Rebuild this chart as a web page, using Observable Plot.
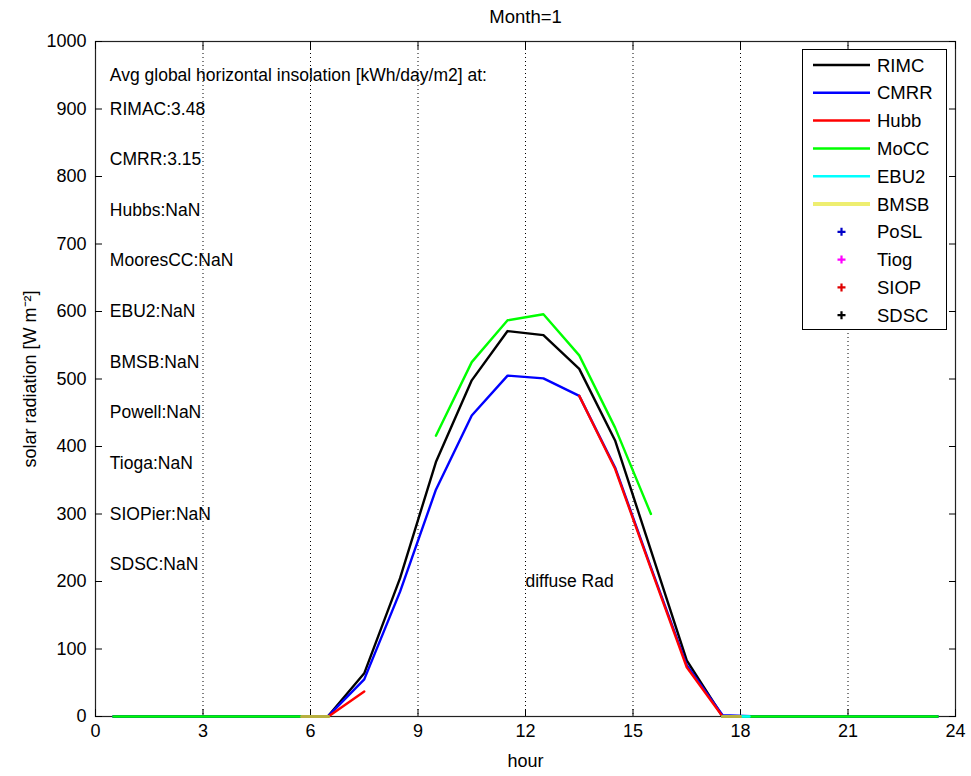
<!DOCTYPE html>
<html>
<head>
<meta charset="utf-8">
<script src="https://cdn.jsdelivr.net/npm/d3@7"></script>
<script src="https://cdn.jsdelivr.net/npm/@observablehq/plot@0.6"></script>
<style>
  body { margin: 0; background: #fff; font-family: "Liberation Sans", Arial, sans-serif; }
  #chart { position: relative; width: 971px; height: 776px; }
  #legend { position: absolute; left: 802px; top: 49px; }
</style>
</head>
<body>
<div id="chart"></div>
<script>
// Hourly means (hour of day, local time) for January
const hours = [0.5, 1.5, 2.5, 3.5, 4.5, 5.5, 6.5, 7.5, 8.5, 9.5, 10.5, 11.5,
               12.5, 13.5, 14.5, 15.5, 16.5, 17.5, 18.5, 19.5, 20.5, 21.5, 22.5, 23.5];

const RIMC = [0, 0, 0, 0, 0, 0, 1, 64, 205, 377, 498, 571,
              565, 515, 409, 246, 83, 0, 0, 0, 0, 0, 0, 0];
const CMRR = [0, 0, 0, 0, 0, 0, 1, 55, 185, 336, 446, 505,
              501, 475, 369, 221, 76, 2, 0, 0, 0, 0, 0, 0];
const Hubb = [null, null, null, null, null, null, 0, 37, null, null, null, null,
              null, 475, 367, 219, 73, 0, null, null, null, null, null, null];
const MoCC = [0, 0, 0, 0, 0, 0, 0, null, null, 416, 525, 587,
              596, 535, 428, 300, null, 0, 0, 0, 0, 0, 0, 0];

// Short station records near sunrise / sunset
const hoursEBU2 = [17.5, 18.25];
const EBU2 = [0, 0];
const hoursBMSB = [5.75, 6.5, null, 17.5, 18.0];
const BMSB = [0, 0, null, 0, 0];

// Axis ticks and grid
const xTicks = [0, 3, 6, 9, 12, 15, 18, 21, 24];
const yTicks = [0, 100, 200, 300, 400, 500, 600, 700, 800, 900, 1000];
const gridHours = [3, 6, 9, 12, 15, 18, 21];

// Daily insolation annotations
const noteLabels = [
  "Avg global horizontal insolation [kWh/day/m2] at:",
  "RIMAC:3.48", "CMRR:3.15", "Hubbs:NaN", "MooresCC:NaN", "EBU2:NaN",
  "BMSB:NaN", "Powell:NaN", "Tioga:NaN", "SIOPier:NaN", "SDSC:NaN"
];
const noteY = [950, 900, 825, 750, 675, 600, 525, 450, 375, 300, 225];
const noteX = 0.4;
const diffuseLabel = "diffuse Rad";
const diffuseX = 12;
const diffuseY = 200;

// Legend entries
const legendNames  = ["RIMC", "CMRR", "Hubb", "MoCC", "EBU2", "BMSB", "PoSL", "Tiog", "SIOP", "SDSC"];
const legendColors = ["#000000", "#0000ff", "#ff0000", "#00ff00", "#00ffff", "#eeee70",
                      "#0000c8", "#ff00ff", "#e00000", "#000000"];
const legendKinds  = ["line", "line", "line", "line", "line", "line", "plus", "plus", "plus", "plus"];

const rows = (xs, ys) => xs.map((h, i) => ({h, v: ys[i]}));

const FONT = "'Liberation Sans', Arial, sans-serif";
const fmt = d => String(d);

const chart = Plot.plot({
  width: 971,
  height: 776,
  marginLeft: 95,
  marginRight: 16,
  marginTop: 41,
  marginBottom: 60,
  style: {fontFamily: FONT, fontSize: "18px", color: "#000", background: "#fff"},
  x: {domain: [0, 24]},
  y: {domain: [0, 1000]},
  marks: [
    Plot.frame({stroke: "#222", strokeWidth: 1.2}),
    Plot.ruleX(gridHours, {stroke: "#000", strokeDasharray: "1,3", strokeWidth: 1}),
    Plot.axisX(xTicks, {anchor: "bottom", tickSize: 0, tickPadding: 8, fontSize: 18, tickFormat: fmt,
      label: "hour", labelAnchor: "center", labelOffset: 50, labelArrow: "none"}),
    Plot.axisX(xTicks, {anchor: "bottom", tickSize: -7, tickFormat: () => "", label: null}),
    Plot.axisX(xTicks, {anchor: "top", tickSize: -7, tickFormat: () => "", label: null}),
    Plot.axisY(yTicks, {anchor: "left", tickSize: 0, tickPadding: 9, fontSize: 18, tickFormat: fmt,
      label: "solar radiation [W m⁻²]", labelAnchor: "center", labelOffset: 72, labelArrow: "none"}),
    Plot.axisY(yTicks, {anchor: "left", tickSize: -7, tickFormat: () => "", label: null}),
    Plot.axisY(yTicks, {anchor: "right", tickSize: -7, tickFormat: () => "", label: null}),
    Plot.line(rows(hours, RIMC), {x: "h", y: "v", stroke: legendColors[0], strokeWidth: 2.4}),
    Plot.line(rows(hours, CMRR), {x: "h", y: "v", stroke: legendColors[1], strokeWidth: 2.4}),
    Plot.line(rows(hours, Hubb), {x: "h", y: "v", stroke: legendColors[2], strokeWidth: 2.4}),
    Plot.line(rows(hours, MoCC), {x: "h", y: "v", stroke: legendColors[3], strokeWidth: 2.4}),
    Plot.line(rows(hoursEBU2, EBU2), {x: "h", y: "v", stroke: legendColors[4], strokeWidth: 2.4}),
    Plot.line(rows(hoursBMSB, BMSB), {x: "h", y: "v", stroke: "#b8b040", strokeWidth: 3}),
    Plot.text(noteLabels, {x: () => noteX, y: (d, i) => noteY[i], text: d => d,
      textAnchor: "start", fontSize: 17.5, fill: "#000"}),
    Plot.text([diffuseLabel], {x: () => diffuseX, y: () => diffuseY, text: d => d,
      textAnchor: "start", fontSize: 17.5, fill: "#000"}),
    Plot.text(["Month=1"], {frameAnchor: "top", lineAnchor: "middle", dy: -24, text: d => d,
      fontSize: 18.5, fill: "#000"})
  ]
});

const host = document.getElementById("chart");
host.appendChild(chart);

// Legend box in the upper right corner of the axes
const rowH = 27.8;
const legend = d3.select(host).append("svg")
  .attr("id", "legend")
  .attr("width", 146)
  .attr("height", 282)
  .style("font-family", FONT);
legend.append("rect")
  .attr("x", 0.5).attr("y", 0.5).attr("width", 144).attr("height", 280)
  .attr("fill", "#fff").attr("stroke", "#000").attr("stroke-width", 1);
const entry = legend.selectAll("g.entry")
  .data(legendNames.map((name, i) => ({name, color: legendColors[i], kind: legendKinds[i]})))
  .join("g")
  .attr("class", "entry")
  .attr("transform", (d, i) => `translate(0,${16 + i * rowH})`);
entry.filter(d => d.kind === "line").append("line")
  .attr("x1", 11).attr("x2", 68).attr("y1", 0).attr("y2", 0)
  .attr("stroke", d => d.color)
  .attr("stroke-width", d => d.name === "BMSB" ? 4 : 2.5);
entry.filter(d => d.kind === "plus").append("path")
  .attr("d", "M35.5,0H43.5M39.5,-4V4")
  .attr("stroke", d => d.color)
  .attr("stroke-width", 2.2)
  .attr("fill", "none");
entry.append("text")
  .attr("x", 75).attr("y", 0).attr("dy", "0.36em")
  .attr("font-size", 18.5)
  .attr("fill", "#000")
  .text(d => d.name);
</script>
</body>
</html>
